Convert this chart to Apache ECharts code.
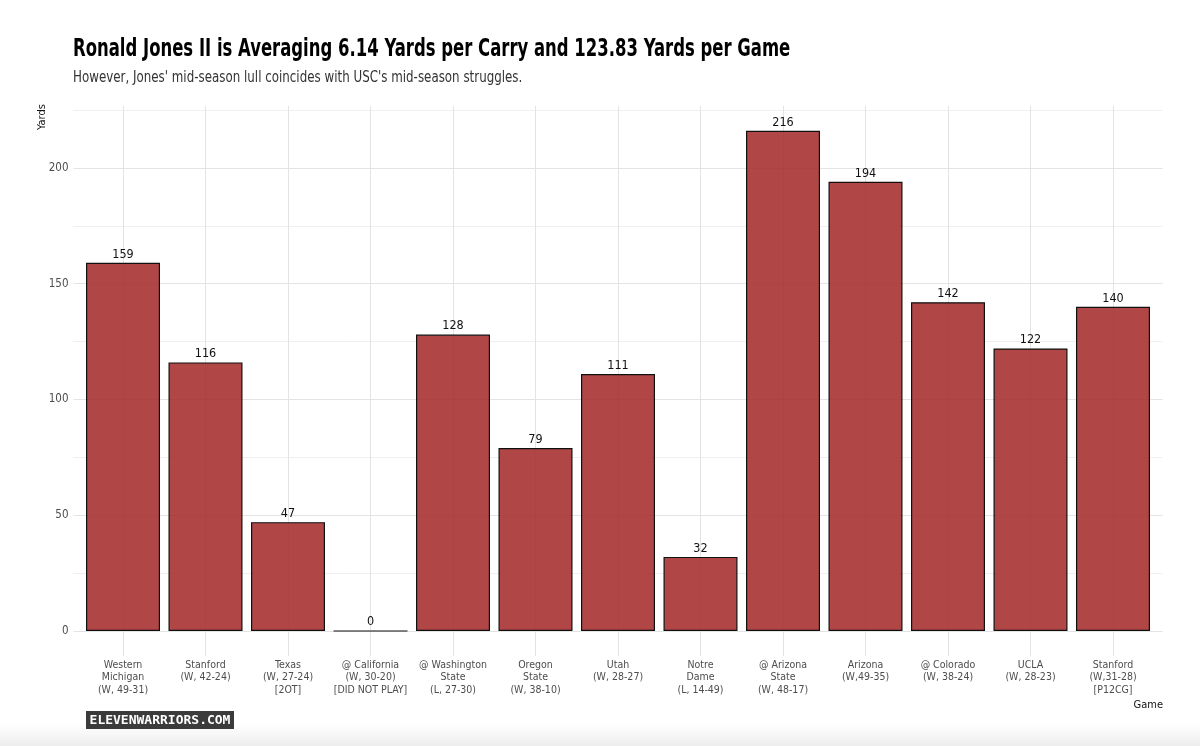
<!DOCTYPE html>
<html>
<head>
<meta charset="utf-8">
<script src="https://cdn.jsdelivr.net/npm/echarts@6/dist/echarts.min.js"></script>
<style>
html,body{margin:0;padding:0;background:#fff;}
#chart{width:1200px;height:746px;}
</style>
</head>
<body>
<div id="chart"></div>
<script>
const categories = [
  "Western\nMichigan\n(W, 49-31)",
  "Stanford\n(W, 42-24)",
  "Texas\n(W, 27-24)\n[2OT]",
  "@ California\n(W, 30-20)\n[DID NOT PLAY]",
  "@ Washington\nState\n(L, 27-30)",
  "Oregon\nState\n(W, 38-10)",
  "Utah\n(W, 28-27)",
  "Notre\nDame\n(L, 14-49)",
  "@ Arizona\nState\n(W, 48-17)",
  "Arizona\n(W,49-35)",
  "@ Colorado\n(W, 38-24)",
  "UCLA\n(W, 28-23)",
  "Stanford\n(W,31-28)\n[P12CG]"
];
const yards = [159, 116, 47, 0, 128, 79, 111, 32, 216, 194, 142, 122, 140];
const yTicks = [0, 50, 100, 150, 200];

const titleText = "Ronald Jones II is Averaging 6.14 Yards per Carry and 123.83 Yards per Game";
const subtitleText = "However, Jones' mid-season lull coincides with USC's mid-season struggles.";

const COND = '"DejaVu Sans Condensed", "Roboto", sans-serif';

const chart = echarts.init(document.getElementById('chart'), null, {renderer: 'canvas'});

const barData = yards.map((v, i) => [i, v]);

chart.setOption({
  backgroundColor: '#ffffff',
  animation: false,
  grid: [
    {left: 73.5, right: 37.5, top: 110, bottom: 115},
    {left: 123, right: 87, top: 106, bottom: 90}
  ],
  xAxis: [
    {
      type: 'value', gridIndex: 0, min: -0.6, max: 12.6,
      show: false, splitLine: {show: false}
    },
    {
      type: 'category', gridIndex: 1, data: categories, boundaryGap: false,
      axisLine: {show: false}, axisTick: {show: false},
      splitLine: {show: true, lineStyle: {color: '#e3e3e3', width: 1}},
      axisLabel: {
        interval: 0, margin: 3, color: '#4d4d4d',
        fontFamily: COND, fontSize: 10.5, lineHeight: 12.5
      }
    }
  ],
  yAxis: [
    {
      type: 'value', gridIndex: 0, min: 0, max: 225, interval: 25,
      axisLine: {show: false}, axisTick: {show: false},
      splitLine: {show: true, lineStyle: {color: ['#e3e3e3', '#efefef'], width: 1}},
      axisLabel: {
        color: '#4d4d4d', fontFamily: COND, fontSize: 11.5, margin: 5,
        formatter: v => (yTicks.indexOf(v) >= 0 ? String(v) : '')
      }
    },
    {
      type: 'value', gridIndex: 1, min: 0, max: 1, show: false,
      splitLine: {show: false}
    }
  ],
  series: [
    {
      type: 'bar', xAxisIndex: 0, yAxisIndex: 0,
      data: barData,
      barWidth: 74,
      itemStyle: {color: 'rgba(165,42,42,0.87)', borderColor: '#111', borderWidth: 1.2},
      label: {
        show: true, position: 'top', distance: 2,
        color: '#111', fontFamily: COND, fontSize: 12.5,
        formatter: p => String(p.value[1])
      }
    }
  ],
  graphic: [
    {
      type: 'rect', left: 0, top: 722, silent: true, z: -10,
      shape: {width: 1200, height: 24},
      style: {
        fill: new echarts.graphic.LinearGradient(0, 0, 0, 1, [
          {offset: 0, color: 'rgba(240,240,240,0)'},
          {offset: 1, color: 'rgba(232,232,232,0.8)'}
        ])
      }
    },
    {
      type: 'text', x: 73, y: 50, scaleX: 0.763,
      style: {text: titleText, fill: '#000', font: 'bold 24px ' + COND, align: 'left', verticalAlign: 'middle'}
    },
    {
      type: 'text', x: 73, y: 78, scaleX: 0.88,
      style: {text: subtitleText, fill: '#333', font: '15px ' + COND, align: 'left', verticalAlign: 'middle'}
    },
    {
      type: 'text', x: 42, y: 130, rotation: Math.PI / 2,
      style: {text: 'Yards', fill: '#111', font: '11px ' + COND, align: 'left', verticalAlign: 'middle'}
    },
    {
      type: 'text', x: 1163, y: 705,
      style: {text: 'Game', fill: '#111', font: '11px ' + COND, align: 'right', verticalAlign: 'middle'}
    },
    {
      type: 'rect', x: 86, y: 711, shape: {width: 148, height: 18},
      style: {fill: '#3b3b3b'}
    },
    {
      type: 'text', x: 160, y: 720.5,
      style: {text: 'ELEVENWARRIORS.COM', fill: '#ffffff', font: 'bold 13px "DejaVu Sans Mono", monospace', align: 'center', verticalAlign: 'middle'}
    }
  ]
});
</script>
</body>
</html>
